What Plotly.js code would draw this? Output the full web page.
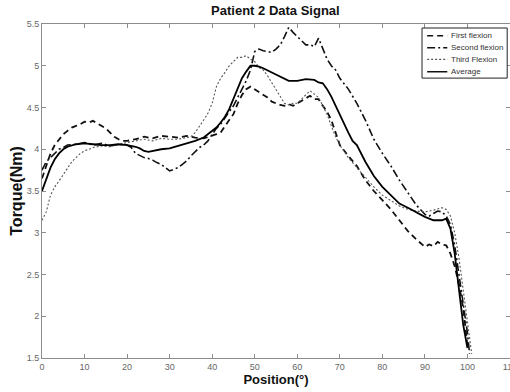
<!DOCTYPE html>
<html>
<head>
<meta charset="utf-8">
<script src="https://cdn.plot.ly/plotly-3.0.1.min.js"></script>
<style>html,body{margin:0;padding:0;background:#fff;}#chart{width:510px;height:392px;}</style>
</head>
<body>
<div id="chart"></div>
<script>
// First flexion (dashed)
const firstX = [0,1,2,3,4,5,6,7,8,9,10,11,12,13,14,15,16,17,18,19,20,22,24,26,28,30,32,34,36,38,40,41,42,43,44,45,46,47,48,49,50,51,52,53,54,55,56,57,58,59,60,61,62,63,64,65,66,67,68,69,70,72,74,76,78,80,82,84,86,88,90,91,92,93,94,95,96,97,98,99,100];
const firstY = [3.65,3.8,3.95,4.05,4.12,4.18,4.22,4.26,4.28,4.3,4.33,4.32,4.34,4.31,4.28,4.25,4.2,4.15,4.12,4.1,4.1,4.12,4.15,4.13,4.16,4.15,4.14,4.16,4.14,4.13,4.16,4.18,4.2,4.28,4.35,4.42,4.55,4.65,4.72,4.75,4.72,4.68,4.66,4.62,4.57,4.55,4.53,4.52,4.54,4.52,4.55,4.57,4.6,4.64,4.6,4.6,4.52,4.45,4.35,4.2,4.05,3.92,3.8,3.63,3.5,3.39,3.28,3.15,3.02,2.92,2.83,2.86,2.84,2.89,2.86,2.85,2.75,2.6,2.38,2.1,1.65];

// Second flexion (dash-dot)
const secondX = [0,1,2,3,4,5,6,8,10,12,14,16,18,20,21,22,23,24,25,26,27,28,29,30,31,32,33,34,35,36,37,38,39,40,41,42,43,44,45,46,47,48,49,50,51,52,53,54,55,56,57,58,59,60,61,62,63,64,65,66,67,68,69,70,71,72,74,76,78,80,82,84,86,88,90,91,92,93,94,95,96,97,98,99,100,100.5];
const secondY = [3.75,3.85,3.9,3.95,4.0,4.02,4.05,4.06,4.08,4.05,4.07,4.04,4.06,4.05,4.02,3.95,3.92,3.9,3.89,3.87,3.84,3.82,3.78,3.74,3.76,3.78,3.82,3.86,3.92,3.97,4.02,4.05,4.1,4.18,4.25,4.3,4.38,4.45,4.52,4.62,4.72,4.82,4.95,5.17,5.2,5.18,5.17,5.16,5.2,5.25,5.35,5.46,5.4,5.35,5.3,5.25,5.25,5.23,5.33,5.2,5.08,5.0,4.95,4.85,4.78,4.72,4.55,4.35,4.12,3.95,3.8,3.63,3.48,3.33,3.22,3.2,3.23,3.26,3.25,3.2,3.1,2.85,2.5,2.15,1.8,1.55];

// Third Flexion (dotted)
const thirdX = [0,1,2,3,4,5,6,7,8,9,10,11,12,14,16,18,20,22,24,26,28,30,32,34,35,36,37,38,39,40,41,42,43,44,45,46,47,48,49,50,51,52,53,54,55,56,57,58,59,60,61,62,63,64,65,66,67,68,69,70,72,74,76,78,80,82,84,86,88,90,92,94,95,96,97,98,99,100,101];
const thirdY = [3.15,3.25,3.45,3.55,3.62,3.7,3.78,3.85,3.9,3.95,3.98,4.0,4.02,4.04,4.03,4.06,4.08,4.1,4.12,4.1,4.13,4.12,4.12,4.14,4.15,4.2,4.27,4.35,4.43,4.55,4.75,4.85,4.92,5.0,5.05,5.1,5.1,5.12,5.08,5.05,4.98,4.95,4.88,4.8,4.71,4.63,4.55,4.53,4.55,4.55,4.6,4.66,4.7,4.66,4.62,4.52,4.42,4.28,4.15,4.05,3.9,3.78,3.66,3.55,3.45,3.38,3.32,3.28,3.26,3.25,3.27,3.3,3.28,3.2,3.0,2.7,2.3,1.9,1.55];

// Average (solid)
const avgX = [0,1,2,3,4,5,6,8,10,12,14,16,18,20,22,23,24,25,26,28,30,32,34,36,38,40,41,42,43,44,45,46,47,48,49,50,51,52,54,56,58,60,62,64,65,66,67,68,69,70,71,72,73,74,76,78,80,82,84,86,88,90,92,94,95,96,97,98,99,100];
const avgY = [3.5,3.63,3.78,3.88,3.95,4.0,4.03,4.06,4.07,4.06,4.05,4.05,4.06,4.05,4.03,4.01,3.98,3.97,3.98,4.0,4.01,4.04,4.07,4.1,4.14,4.22,4.26,4.32,4.39,4.48,4.6,4.72,4.85,4.93,5.0,5.0,4.99,4.97,4.92,4.87,4.82,4.82,4.84,4.83,4.8,4.79,4.72,4.63,4.52,4.4,4.3,4.2,4.1,4.05,3.85,3.68,3.55,3.45,3.35,3.3,3.25,3.19,3.15,3.15,3.17,3.05,2.75,2.35,1.9,1.62];

const seriesNames = ['First flexion', 'Second flexion', 'Third Flexion', 'Average'];
const xTicks = [0,10,20,30,40,50,60,70,80,90,100,110];
const yTicks = [1.5,2,2.5,3,3.5,4,4.5,5,5.5];

const FONT = 'Liberation Sans, Arial, sans-serif';
const styles = [
  {color: '#111', width: 1.8, dash: '6px,4px'},
  {color: '#111', width: 1.6, dash: '8px,3px,2px,3px'},
  {color: '#555', width: 1.1, dash: '2px,2px'},
  {color: '#000', width: 1.8}
];
const xs = [firstX, secondX, thirdX, avgX];
const ys = [firstY, secondY, thirdY, avgY];

const traces = seriesNames.map((n, i) => ({
  x: xs[i], y: ys[i], name: n, mode: 'lines', line: styles[i], showlegend: false
}));

// Compact MATLAB-style legend box (drawn in paper coordinates)
const legX0 = 0.812, legX1 = 0.994, legY0 = 0.838, legY1 = 0.988;
const rowY = [0.965, 0.929, 0.894, 0.857];
const shapes = [{type: 'rect', xref: 'paper', yref: 'paper', x0: legX0, x1: legX1, y0: legY0, y1: legY1,
                 line: {color: '#222', width: 1}, fillcolor: '#fff', layer: 'above'}];
const annotations = [];
seriesNames.forEach((n, i) => {
  shapes.push({type: 'line', xref: 'paper', yref: 'paper', x0: 0.823, x1: 0.866, y0: rowY[i], y1: rowY[i],
               line: Object.assign({}, styles[i], {width: Math.min(styles[i].width, 1.4)}), layer: 'above'});
  annotations.push({xref: 'paper', yref: 'paper', x: 0.869, y: rowY[i], xanchor: 'left', yanchor: 'middle',
                    text: n, showarrow: false, font: {family: FONT, size: 8, color: '#333'}});
});

const axisCommon = {
  showgrid: false, zeroline: false, showline: true, mirror: 'ticks',
  linecolor: '#8c8c8c', linewidth: 1, ticks: 'inside', ticklen: 4, tickcolor: '#8c8c8c',
  tickfont: {family: FONT, size: 9, color: '#666'}
};

const layout = {
  width: 510, height: 392,
  margin: {l: 42, r: 0, t: 24, b: 34},
  paper_bgcolor: '#fff', plot_bgcolor: '#fff',
  title: {text: '<b>Patient 2 Data Signal</b>', x: 0.54, xanchor: 'center', y: 0.985, yanchor: 'top',
          font: {family: FONT, size: 13, color: '#111'}},
  xaxis: Object.assign({}, axisCommon, {
    range: [0, 110], tickvals: xTicks, ticktext: xTicks.map(String), ticklabeloverflow: 'allow',
    title: {text: '<b>Position(°)</b>', standoff: 2, font: {family: FONT, size: 13, color: '#111'}}
  }),
  yaxis: Object.assign({}, axisCommon, {
    range: [1.5, 5.5], tickvals: yTicks, ticktext: yTicks.map(String),
    title: {text: '<b>Torque(Nm)</b>', standoff: 0, font: {family: FONT, size: 16, color: '#111'}}
  }),
  showlegend: false,
  shapes: shapes,
  annotations: annotations
};

Plotly.newPlot('chart', traces, layout, {displayModeBar: false, staticPlot: true});
</script>
</body>
</html>
